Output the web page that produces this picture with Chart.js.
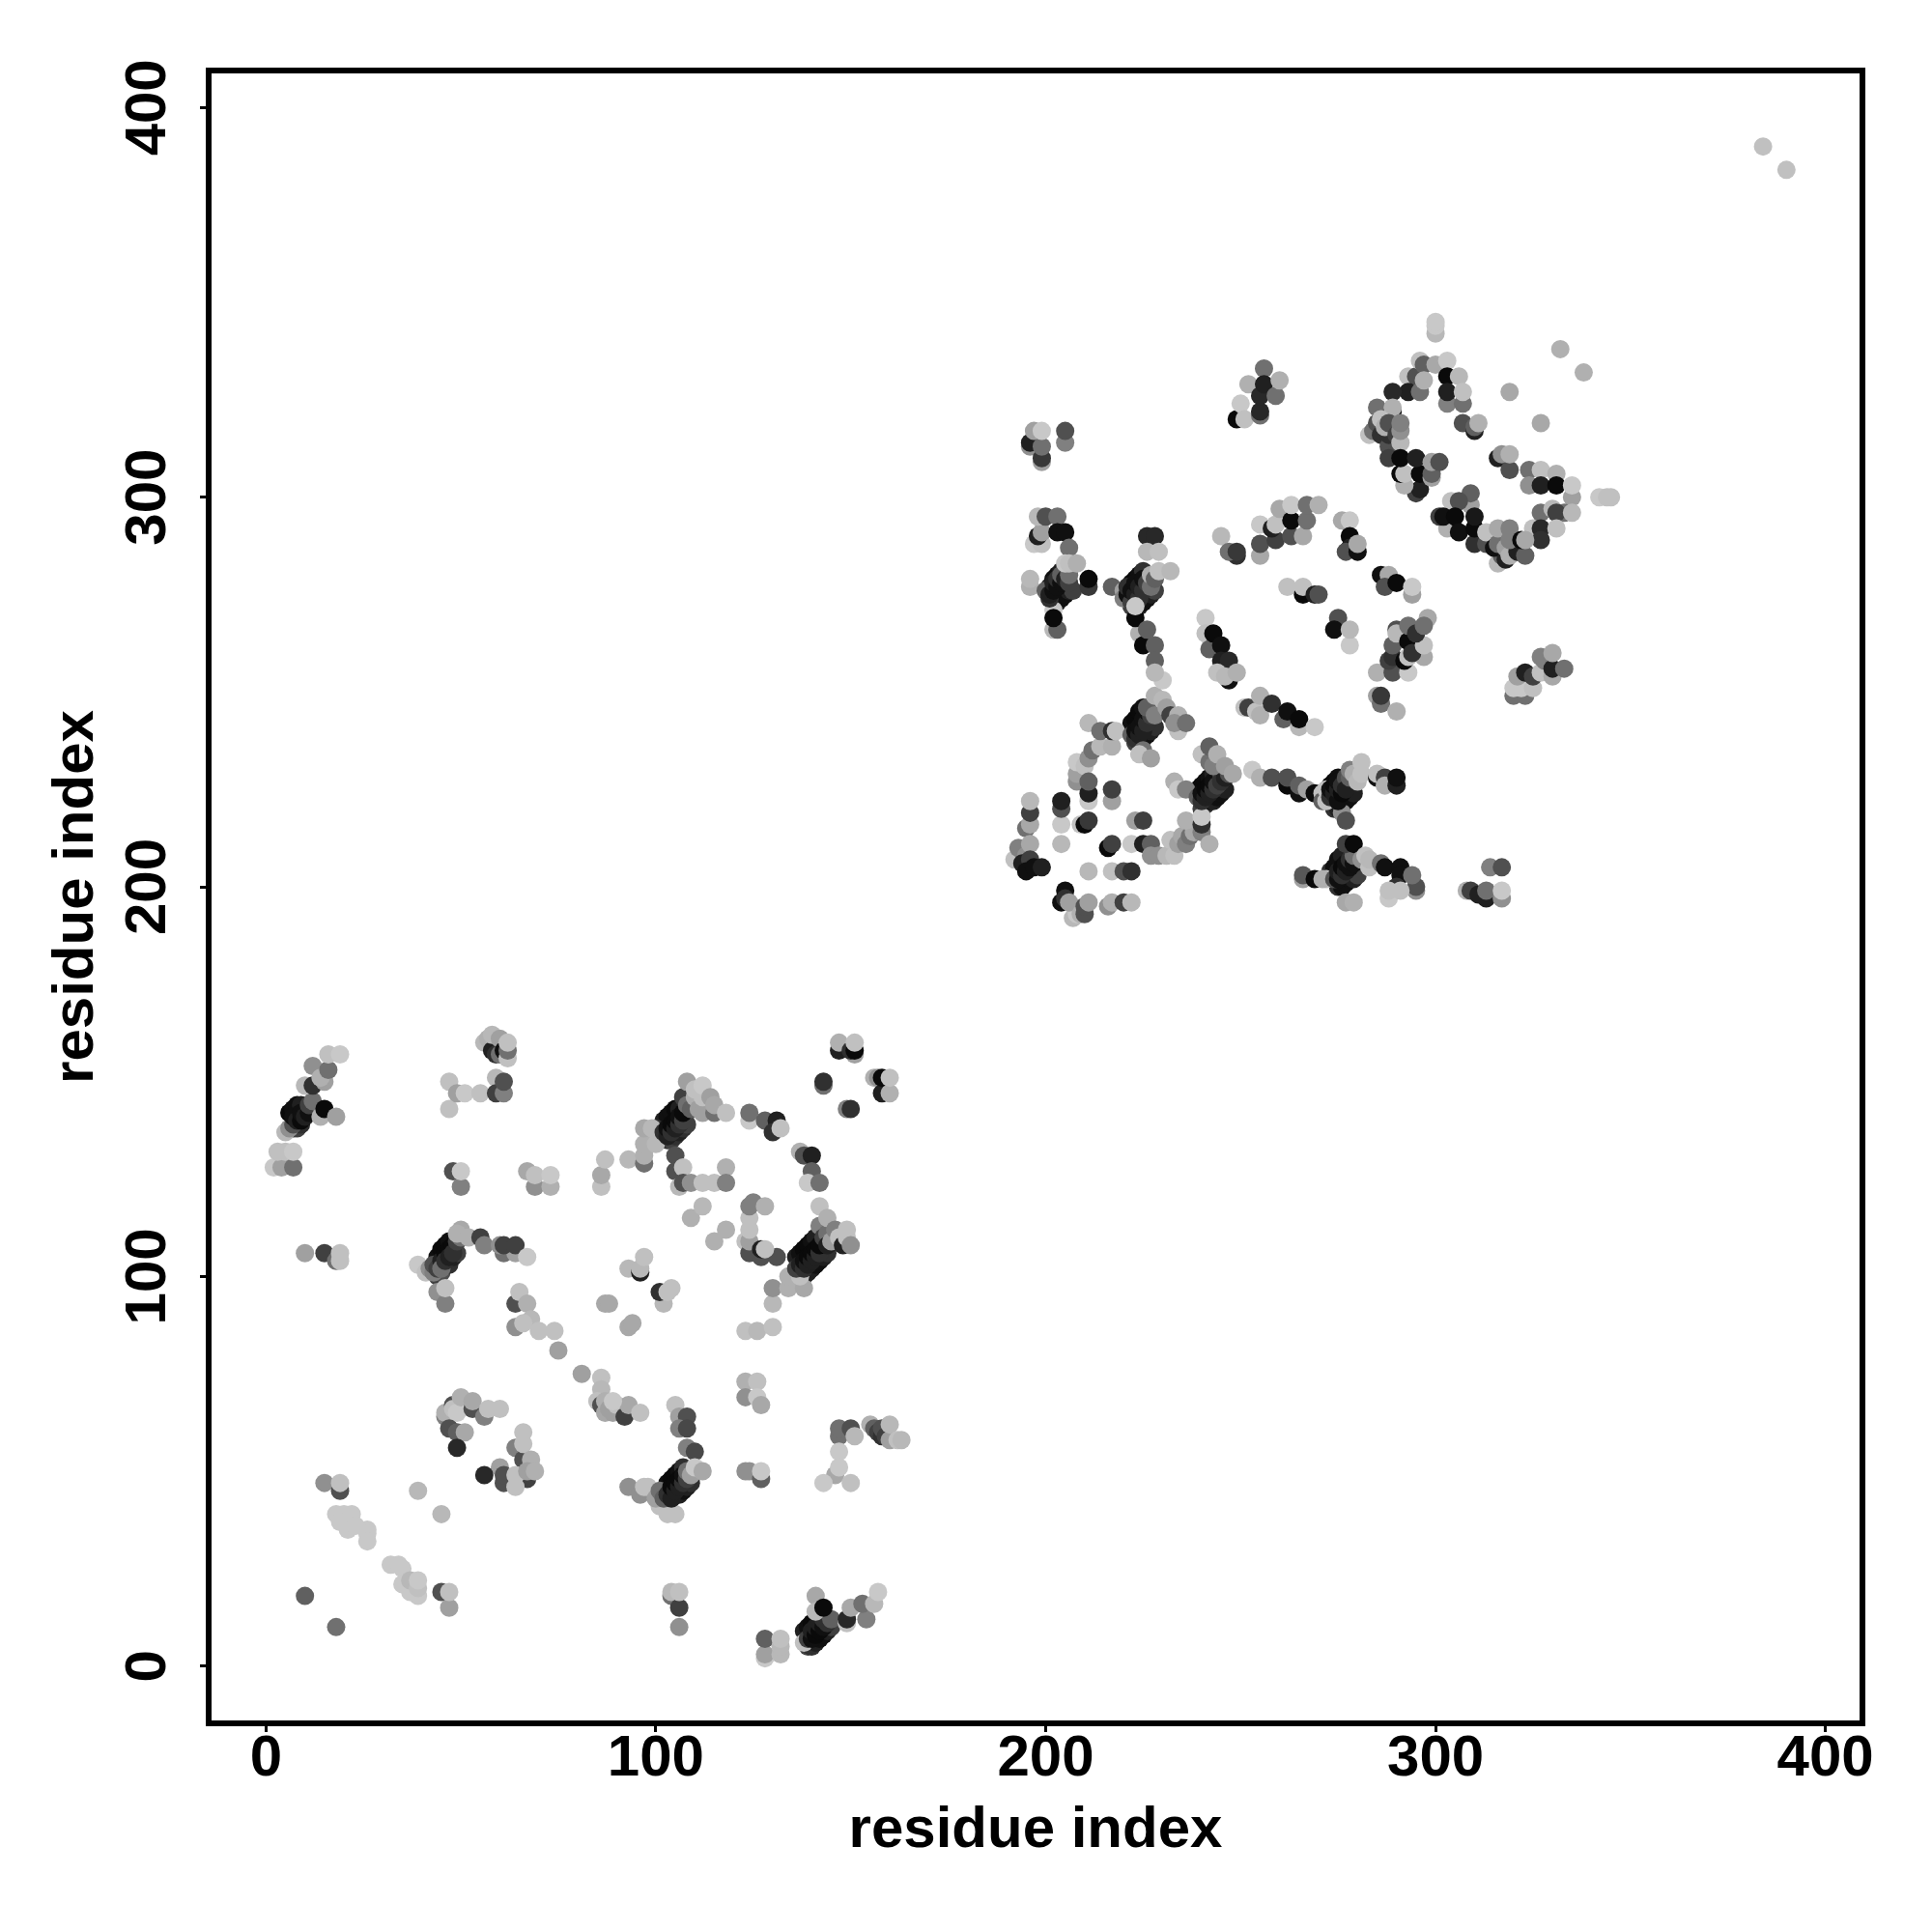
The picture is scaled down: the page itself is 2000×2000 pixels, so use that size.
<!DOCTYPE html>
<html>
<head>
<meta charset="utf-8">
<style>
  html, body { margin: 0; background: #fff; }
  canvas { display: block; }
</style>
<script src="https://cdn.jsdelivr.net/npm/chart.js@4"></script>
</head>
<body>
<canvas id="contactMap" width="2000" height="2000"></canvas>
<script>
const axisTitle = "residue index";
const tickValues = [0, 100, 200, 300, 400];

// one row per cluster, same row in the three arrays, drawn in this order
// first rows: outer points of the dark diagonal bands, they sit under everything
const residueX = [
  6,7,8,9,7,8,9,
  44,45,46,47,44,45,46,47,48,49,
  102,103,104,105,106,101,103,104,105,106,107,108,100,
  136,137,138,139,140,141,138,139,140,141,142,143,144,
  103,104,105,106,107,104,105,106,107,108,109,
  138,139,140,141,142,143,139,140,141,142,143,144,145,
  201,202,203,204,205,202,203,204,205,206,207,
  222,223,224,225,222,223,224,225,226,227,228,
  222,223,224,225,223,224,225,226,227,228,
  239,240,241,242,243,240,241,242,243,244,245,246,
  272,273,274,275,274,275,276,277,278,279,
  273,274,275,276,275,276,277,278,279,280,
  2,4,3,5,7,7,
  5,6,7,7,8,9,9,10,11,11,12,10,12,15,12,14,16,16,19,14,15,18,
  56,57,58,58,59,60,60,61,62,62,62,
  47,47,49,51,55,59,59,61,61,
  48,50,50,67,69,73,69,73,
  10,15,18,19,19,
  39,41,42,43,43,44,45,45,46,46,47,47,48,48,49,50,50,49,52,55,56,
  61,64,60,61,64,67,
  44,46,46,64,65,67,68,64,66,70,74,75,81,
  147,147,151,150,151,151,
  143,143,149,150,156,157,158,158,160,160,
  93,97,97,97,100,97,99,
  102,103,103,104,104,105,105,106,106,107,107,107,108,108,109,110,110,111,112,112,112,114,115,115,118,
  86,86,87,
  105,105,107,106,107,109,112,115,118,118,
  109,112,115,118,
  124,124,128,131,130,132,137,138,140,140,139,142,
  123,124,124,124,124,124,125,128,127,131,127,128,
  130,130,134,134,138,137,136,137,138,138,139,139,140,140,141,141,142,142,142,142,143,144,144,144,145,146,147,148,149,149,150,
  123,126,130,
  93,96,96,97,102,101,103,104,87,88,93,94,
  46,46,48,48,49,50,53,53,56,57,60,47,49,51,49,
  60,61,61,56,64,66,66,66,67,64,64,68,67,69,
  39,45,
  15,19,19,
  18,20,19,21,22,23,26,26,26,
  32,34,35,35,37,37,39,39,39,
  45,47,47,
  10,18,
  86,86,85,86,87,87,88,89,90,92,93,96,89,
  105,106,108,106,108,108,110,
  93,96,97,98,
  101,103,105,100,101,102,103,104,104,105,105,106,106,107,107,108,108,109,110,112,
  123,126,123,126,127,
  123,124,127,127,
  147,147,150,151,
  155,156,157,158,158,159,160,160,162,163,
  146,147,147,143,150,
  104,104,106,106,106,
  128,128,128,132,132,132,
  138,139,140,140,141,141,142,142,143,143,144,145,141,141,143,149,149,150,154,153,156,157,
  195,196,196,196,204,204,204,204,
  208,208,208,210,211,211,211,211,217,217,209,210,211,
  223,225,216,217,222,225,227,
  227,229,231,233,232,234,235,236,237,238,236,240,240,240,242,
  211,217,220,222,
  192,193,195,194,196,196,195,197,199,
  205,204,205,207,208,206,209,210,210,211,216,217,220,222,
  233,234,236,239,240,240,241,241,242,242,243,243,244,245,245,246,247,240,242,243,242,244,246,248,
  253,255,258,262,262,265,265,267,269,271,
  266,266,269,272,
  251,252,254,255,255,258,261,262,265,265,269,
  211,212,214,214,217,217,218,
  222,223,223,224,224,225,225,226,226,227,225,224,227,226,228,228,230,230,231,232,234,234,233,236,
  285,286,286,290,
  285,289,293,288,289,289,290,290,292,293,293,297,294,297,293,295,298,297,
  320,323,320,322,325,321,323,325,327,327,328,330,330,333,330,
  271,272,272,276,277,273,273,274,274,275,275,275,276,276,277,277,278,278,279,280,281,281,
  285,285,287,287,290,290,
  271,274,275,275,276,276,277,277,278,278,279,279,277,279,281,282,283,283,
  286,287,291,291,295,295,294,290,288,288,291,277,279,
  314,317,308,309,311,313,313,317,317,
  300,300,300,
  332,338,319,327,
  293,295,293,296,296,297,297,300,303,
  303,303,303,306,307,307,
  285,289,289,289,
  307,310,310,311,
  283,284,285,286,286,288,288,287,288,290,291,291,291,
  295,296,292,288,291,292,296,291,295,299,299,299,301,
  304,303,301,302,309,309,306,305,306,310,310,310,313,313,
  316,317,319,319,
  324,327,324,327,331,331,335,335,
  325,327,330,333,331,335,327,331,327,
  342,344,345,
  316,317,315,316,316,318,318,319,321,323,319,319,322,323,
  249,250,251,252,255,255,255,256,256,259,260,
  249,255,255,255,259,258,259,260,263,263,263,266,267,267,270,
  276,278,278,278,277,280,280,
  286,288,287,290,294,294,
  262,266,266,269,270,
  275,274,278,278,
  196,196,197,199,199,199,199,205,205,
  197,199,198,199,198,200,203,203,205,206,
  196,196,
  202,203,202,202,200,201,201,202,202,203,203,204,204,205,206,206,205,206,208,211,211,
  217,220,220,221,221,222,222,223,223,224,224,225,225,226,227,227,228,229,232,
  226,228,226,229,
  224,223,223,225,226,228,228,228,
  245,247,249,
  241,241,242,243,245,245,247,244,247,246,249,
  384,390
];
const residueY = [
  142,143,144,144,138,138,139,
  105,107,108,109,100,101,103,103,105,106,
  140,141,142,143,143,136,135,135,136,137,138,139,138,
  105,106,107,108,109,110,100,101,102,103,104,105,106,
  47,48,49,50,51,43,44,44,45,46,47,
  9,10,11,12,13,13,5,5,6,7,8,9,10,
  277,279,280,281,282,273,273,274,275,276,276,
  278,279,280,281,272,272,272,273,274,275,276,
  242,243,245,246,237,237,238,239,240,241,
  225,226,227,228,229,220,221,222,222,223,224,225,
  224,226,227,228,220,220,221,222,223,224,
  204,205,207,208,200,200,201,202,202,203,
  128,128,132,132,128,132,
  137,138,139,141,140,140,142,141,142,144,145,149,149,150,154,151,153,157,157,141,143,141,
  160,161,158,162,157,157,161,158,156,158,160,
  150,143,147,147,147,151,147,147,150,
  127,123,127,127,123,123,126,126,
  106,106,104,104,106,
  103,101,102,101,103,102,104,102,106,104,107,105,108,106,109,110,112,111,110,110,108,
  106,106,108,108,108,105,
  96,93,97,93,96,93,89,87,88,86,86,81,75,
  158,160,157,158,158,160,
  149,150,143,143,151,151,147,151,147,151,
  130,129,131,134,134,138,138,
  137,136,138,137,139,138,140,139,141,140,142,146,144,150,143,146,148,143,142,146,149,146,142,144,142,
  123,126,130,
  131,127,128,123,124,124,124,124,128,124,
  115,118,109,112,
  140,142,140,140,137,138,132,131,131,127,124,124,
  109,106,109,112,115,118,119,118,105,105,107,107,
  93,97,97,100,97,100,102,103,102,104,103,105,104,106,105,107,106,108,113,118,110,111,115,108,109,112,110,108,110,112,108,
  86,86,87,
  102,101,102,105,93,96,96,97,93,93,87,88,
  64,65,67,66,65,69,66,68,64,66,66,61,60,60,56,
  51,47,49,49,56,53,60,57,48,46,49,53,50,50,
  45,39,
  47,45,47,
  39,39,37,35,39,36,35,34,32,
  26,26,25,21,19,22,18,20,22,
  19,15,19,
  18,10,
  74,71,68,67,65,68,66,65,67,64,67,65,68,
  67,64,64,61,61,56,55,
  46,44,46,46,
  41,39,39,43,45,43,44,43,46,45,47,46,48,47,49,48,50,49,51,50,
  73,73,69,69,67,
  50,50,48,50,
  59,61,61,59,
  62,61,60,59,61,59,58,62,58,58,
  49,55,51,47,47,
  18,19,15,19,10,
  2,3,7,3,5,7,
  6,7,7,9,8,10,9,11,10,12,11,12,18,14,15,11,12,15,12,16,16,19,
  215,216,219,222,216,220,222,211,
  227,229,232,231,233,222,224,227,222,225,216,216,217,
  217,217,210,211,211,211,211,
  208,208,208,208,212,211,213,211,213,214,217,214,216,218,211,
  204,204,204,204,
  207,210,208,206,211,207,204,205,205,
  199,196,197,192,193,196,193,193,195,196,195,196,196,196,
  227,225,225,223,222,224,223,225,224,226,225,227,226,229,227,228,229,234,232,231,236,234,231,229,
  230,228,228,226,228,224,226,225,224,224,
  202,203,202,202,
  246,246,245,244,249,247,243,245,241,243,241,
  242,235,236,240,236,240,240,
  239,238,240,239,241,240,243,242,245,244,235,234,233,246,244,249,248,253,246,244,244,240,242,242,
  249,247,249,245,
  255,255,255,258,259,262,266,265,258,259,263,259,260,262,267,265,269,267,
  249,249,251,251,251,254,255,254,255,259,258,254,256,256,260,
  222,222,225,219,217,223,225,224,226,222,225,227,224,226,228,225,228,230,229,227,232,229,
  228,229,228,226,226,228,
  202,202,202,204,203,205,204,206,205,207,206,208,211,211,207,208,205,207,
  206,205,205,203,199,200,203,200,197,199,199,196,196,
  205,205,199,199,198,197,199,197,199,
  342,344,345,
  338,332,327,319,
  331,331,327,327,335,334,330,334,335,
  324,331,327,331,324,327,
  323,327,322,323,
  319,317,318,319,
  316,317,319,316,320,313,316,318,319,316,314,317,319,
  301,302,303,310,306,306,306,310,310,305,306,309,309,
  299,292,295,295,298,301,299,295,291,288,292,295,288,291,
  310,311,307,311,
  307,307,303,303,306,303,300,303,
  292,296,297,296,296,296,292,292,289,
  300,300,300,
  283,285,287,288,292,284,287,285,286,285,292,289,289,289,
  320,324,320,329,321,322,326,333,329,326,330,
  285,285,288,293,289,292,293,297,290,294,298,290,294,298,298,
  294,294,290,287,286,286,288,
  280,280,277,278,275,277,
  277,275,277,275,275,
  269,266,262,266,
  313,314,317,309,310,313,317,314,317,
  288,288,290,291,295,295,295,291,291,287,
  277,279,
  266,266,271,269,276,274,275,276,278,277,279,278,280,279,278,280,283,283,283,277,279,
  277,276,274,275,277,273,276,275,278,274,277,276,279,278,277,280,279,281,281,
  290,290,286,286,
  265,269,272,262,266,262,258,255,
  290,286,286,
  269,265,261,265,262,258,258,255,253,254,255,
  390,384
];
// grey level of each point (0 black, 255 white)
const residueShade = [
  10,16,16,32,32,64,48,
  16,10,10,16,64,80,32,48,32,64,
  32,16,16,10,32,64,48,64,48,32,48,64,48,
  32,16,10,10,16,32,64,32,32,16,16,32,48,
  16,10,10,16,48,32,32,32,16,32,48,
  32,16,10,10,32,48,64,48,32,16,16,32,64,
  32,16,16,32,64,48,32,16,16,32,64,
  16,10,16,48,64,48,32,16,16,32,64,
  16,10,10,16,64,48,16,16,32,48,
  16,10,10,16,32,64,48,16,32,16,16,32,
  32,16,10,16,48,32,16,16,16,32,
  48,16,16,32,48,16,16,16,32,64,
  200,160,192,192,112,200,
  184,144,80,16,32,10,16,32,16,64,112,184,48,160,144,176,112,192,200,176,10,160,
  184,176,32,184,48,112,160,16,192,112,192,
  192,192,160,200,192,184,64,128,80,
  80,128,200,168,144,176,192,200,
  160,64,112,192,192,
  200,192,144,128,80,64,32,112,10,48,10,32,10,48,64,112,168,176,176,64,128,
  112,160,144,64,64,200,
  144,128,192,80,192,176,184,144,192,192,192,160,160,
  32,176,160,48,10,192,
  112,48,128,48,176,144,32,10,176,192,
  184,112,176,176,184,168,184,
  48,32,16,48,10,32,10,48,16,64,10,64,112,160,96,176,192,160,160,192,200,160,112,168,192,
  192,168,192,
  80,80,192,184,80,144,192,192,176,128,
  176,184,176,176,
  200,112,96,32,48,192,176,80,32,96,200,112,
  192,80,160,192,192,128,128,176,80,80,32,192,
  184,144,176,176,168,192,64,32,48,16,32,10,32,10,32,10,48,10,128,192,64,112,176,32,160,128,192,32,192,192,144,
  192,184,192,
  184,32,184,192,184,48,192,192,168,168,168,168,
  128,176,80,192,200,176,80,168,128,192,192,80,96,168,40,
  160,80,80,40,128,80,192,192,64,192,192,176,160,176,
  184,184,
  144,80,192,
  200,200,200,200,200,200,200,200,200,
  200,200,200,200,200,184,200,192,200,
  80,160,192,
  96,112,
  192,184,192,80,168,176,160,160,192,64,168,192,200,
  192,160,80,128,72,128,72,
  144,144,192,192,
  192,192,192,160,112,96,48,32,10,32,10,32,10,48,16,64,112,160,200,168,
  176,192,144,200,168,
  144,144,96,200,
  112,112,80,184,
  176,96,64,48,80,64,160,184,192,184,
  168,200,200,200,192,
  112,184,64,192,144,
  200,160,96,184,184,192,
  192,64,16,32,10,32,10,32,16,48,48,96,168,184,10,192,40,168,128,112,184,200,
  112,168,64,184,200,80,32,184,
  144,160,200,192,144,200,32,96,160,64,192,10,56,
  160,64,10,64,200,32,96,
  144,144,184,192,192,160,168,128,112,168,176,128,48,200,176,
  184,192,80,48,
  192,128,144,32,168,64,16,16,32,
  16,16,48,184,200,160,176,80,80,160,144,176,64,184,
  176,200,128,96,48,16,32,10,32,10,48,16,64,64,48,32,80,192,112,128,96,176,160,168,
  200,176,80,10,80,16,96,160,10,192,
  160,88,10,192,
  192,64,192,176,176,48,96,16,184,10,200,
  184,112,184,112,176,48,192,
  96,48,16,32,16,32,16,48,16,64,112,192,160,96,128,176,184,200,160,64,176,192,144,112,
  160,112,56,176,
  176,80,200,64,48,96,80,184,10,192,10,168,48,192,112,48,168,112,
  112,112,200,200,192,160,32,64,192,128,128,168,32,112,168,
  96,192,192,144,80,48,16,32,10,16,32,16,10,48,80,32,96,128,176,184,192,192,
  16,192,64,176,32,16,
  176,80,16,32,48,10,32,16,16,48,16,112,64,10,144,192,192,184,
  112,16,16,16,144,80,112,48,200,192,192,168,176,
  128,80,176,64,32,32,112,144,200,
  184,200,200,
  176,176,168,168,
  192,80,32,112,192,96,176,168,200,
  128,10,32,184,112,192,
  112,40,10,176,
  80,32,96,176,
  192,112,80,48,192,80,48,176,80,64,184,144,128,
  64,32,176,64,10,192,10,10,32,160,96,160,80,
  192,176,64,16,160,96,80,10,16,48,10,24,80,192,
  32,144,80,176,
  112,192,144,32,176,10,160,200,
  192,112,184,112,64,184,40,192,48,
  200,192,192,
  184,96,16,112,168,32,160,176,32,96,128,128,10,168,
  10,200,192,176,112,40,40,112,32,112,176,
  48,168,80,200,64,32,192,168,80,10,200,168,112,112,176,
  168,200,10,32,80,16,168,
  16,168,80,10,160,200,
  192,10,192,32,80,
  80,16,200,184,
  144,32,160,160,56,112,200,128,80,
  200,192,32,160,184,80,112,16,16,112,
  176,184,
  184,96,200,10,96,48,32,16,32,16,48,16,96,32,64,112,200,192,176,56,10,
  96,160,128,16,48,64,16,32,16,48,32,48,16,64,112,176,96,192,184,
  40,40,184,192,
  176,10,200,10,96,96,96,184,
  184,112,56,
  200,192,96,10,16,32,40,192,16,184,176,
  192,192
];

const fontBold = { family: '"Liberation Sans"', size: 60, weight: "bold" };

// R style box round the plot area
const boxPlugin = {
  id: "box",
  afterDraw(chart) {
    const { ctx, chartArea: a } = chart;
    ctx.save();
    ctx.strokeStyle = "#000";
    ctx.lineWidth = 6;
    ctx.strokeRect(a.left, a.top, a.right - a.left, a.bottom - a.top);
    ctx.restore();
  },
};

function axisOptions(isY) {
  return {
    type: "linear",
    min: -14.7,
    max: 409.5,
    afterBuildTicks(axis) {
      axis.ticks = tickValues.map((v) => ({ value: v }));
    },
    afterFit(axis) {
      if (isY) axis.width = 216;
      else axis.height = 216;
    },
    border: { display: false },
    grid: { drawOnChartArea: false, color: "#000", lineWidth: 3, tickLength: 9 },
    ticks: {
      color: "#000",
      font: fontBold,
      padding: isY ? 2 : -8,
      minRotation: isY ? 90 : 0,
      maxRotation: isY ? 90 : 0,
      crossAlign: isY ? "center" : "near",
    },
    title: {
      display: true,
      text: axisTitle,
      color: "#000",
      font: fontBold,
      padding: isY ? { top: 43, bottom: 0 } : { top: 0, bottom: 69 },
    },
  };
}

new Chart(document.getElementById("contactMap"), {
  type: "scatter",
  data: {
    datasets: [
      {
        data: residueX.map((x, i) => ({ x: x, y: residueY[i] })),
        backgroundColor: residueShade.map((g) => `rgb(${g},${g},${g})`),
        borderWidth: 0,
        pointRadius: 9.5,
      },
    ],
  },
  options: {
    responsive: false,
    animation: false,
    layout: { padding: { left: 0, top: 73, right: 72, bottom: 0 } },
    plugins: { legend: { display: false }, tooltip: { enabled: false } },
    scales: { x: axisOptions(false), y: axisOptions(true) },
  },
  plugins: [boxPlugin],
});
</script>
</body>
</html>
